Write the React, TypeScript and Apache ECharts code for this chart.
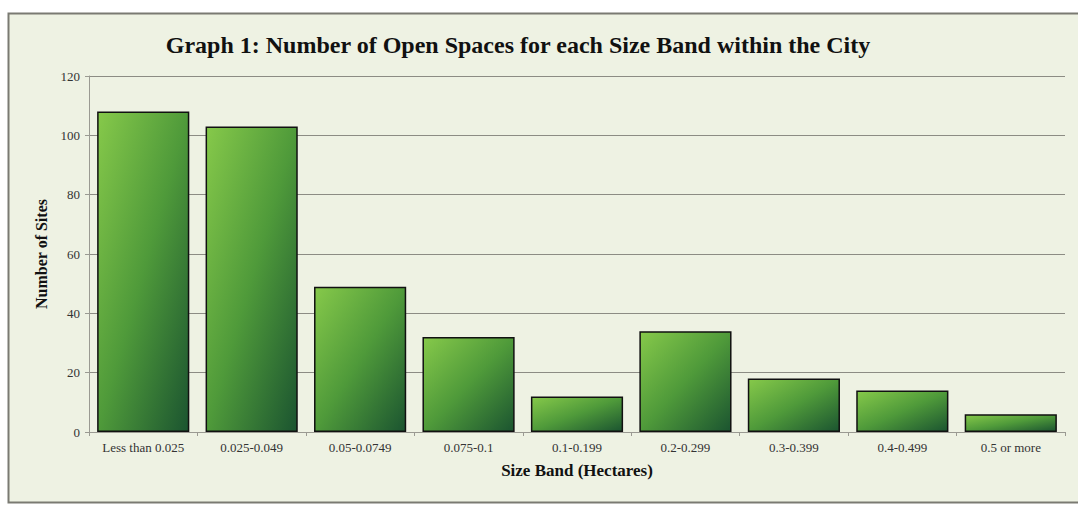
import React, { useEffect, useRef } from "react";
import * as echarts from "echarts";

const categories = [
  "Less than 0.025",
  "0.025-0.049",
  "0.05-0.0749",
  "0.075-0.1",
  "0.1-0.199",
  "0.2-0.299",
  "0.3-0.399",
  "0.4-0.499",
  "0.5 or more",
];
const siteCounts = [108, 103, 49, 32, 12, 34, 18, 14, 6];
const titleText = "Graph 1: Number of Open Spaces for each Size Band within the City";
const xAxisName = "Size Band (Hectares)";
const yAxisName = "Number of Sites";

const SERIF = "'Liberation Serif', 'Times New Roman', serif";

export default function App() {
  const ref = useRef<HTMLDivElement>(null);
  useEffect(() => {
    if (!ref.current) return;
    const chart = echarts.init(ref.current, undefined, { renderer: "svg" });
    chart.setOption({
      animation: false,
      backgroundColor: "#ffffff",
      graphic: [
        {
          type: "rect",
          z: -10,
          silent: true,
          shape: { x: 8.5, y: 13.5, width: 1080, height: 489 },
          style: { fill: "#eef2e3", stroke: "#7a7a72", lineWidth: 2 },
        },
      ],
      title: {
        text: titleText,
        left: 513,
        top: 28,
        textAlign: "center",
        textStyle: {
          fontFamily: SERIF,
          fontWeight: "bold",
          fontSize: 24,
          color: "#111111",
        },
      },
      grid: { left: 89, right: 13, top: 76, bottom: 75, containLabel: false },
      xAxis: {
        type: "category",
        data: categories,
        name: xAxisName,
        nameLocation: "middle",
        nameGap: 30,
        nameTextStyle: {
          fontFamily: SERIF,
          fontWeight: "bold",
          fontSize: 17,
          color: "#111111",
        },
        axisLine: { show: true, lineStyle: { color: "#9a9a92", width: 1 } },
        axisTick: { show: true, length: 4, lineStyle: { color: "#9a9a92" } },
        axisLabel: {
          fontFamily: SERIF,
          fontSize: 13,
          color: "#333333",
          margin: 9,
          interval: 0,
        },
      },
      yAxis: {
        type: "value",
        min: 0,
        max: 120,
        interval: 20,
        name: yAxisName,
        nameLocation: "middle",
        nameGap: 38,
        nameRotate: 90,
        nameTextStyle: {
          fontFamily: SERIF,
          fontWeight: "bold",
          fontSize: 16,
          color: "#111111",
        },
        axisLine: { show: true, lineStyle: { color: "#9a9a92", width: 1 } },
        axisTick: { show: true, length: 4, lineStyle: { color: "#9a9a92" } },
        axisLabel: {
          fontFamily: SERIF,
          fontSize: 13,
          color: "#333333",
          margin: 9,
        },
        splitLine: { show: true, lineStyle: { color: "#8c8c84", width: 1 } },
      },
      series: [
        {
          type: "bar",
          data: siteCounts,
          barCategoryGap: "15%",
          itemStyle: {
            color: new echarts.graphic.LinearGradient(0, 0, 1, 1, [
              { offset: 0, color: "#86c94a" },
              { offset: 0.5, color: "#4f9a3a" },
              { offset: 1, color: "#1b5430" },
            ]),
            borderColor: "#111111",
            borderWidth: 1.5,
          },
        },
      ],
    });
    return () => chart.dispose();
  }, []);
  return (
    <div
      ref={ref}
      style={{ position: "absolute", left: 0, top: 0, width: 1078, height: 507 }}
    />
  );
}
